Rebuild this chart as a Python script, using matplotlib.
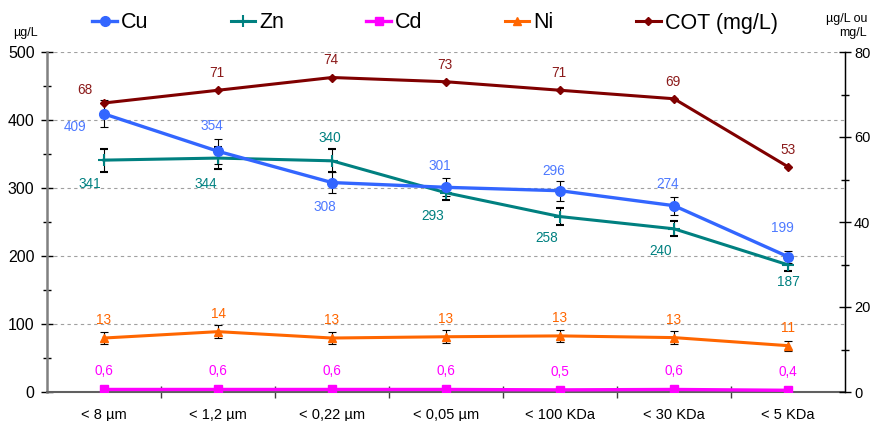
import matplotlib
matplotlib.use("Agg")
import matplotlib.pyplot as plt
from matplotlib.lines import Line2D
from matplotlib.ticker import MultipleLocator, FixedLocator, NullFormatter

plt.rcParams['font.family'] = ['Liberation Sans', 'DejaVu Sans']

# fractions (x categories)
fractions = ['< 8 µm', '< 1,2 µm', '< 0,22 µm', '< 0,05 µm', '< 100 KDa', '< 30 KDa', '< 5 KDa']

# left axis (µg/L)
cu = [409, 354, 308, 301, 296, 274, 199]
cu_err = [20, 18, 15, 13, 15, 13, 9]
zn = [341, 344, 340, 293, 258, 240, 187]
zn_err = [17, 16, 17, 10, 13, 11, 9]

# right axis (µg/L ou mg/L)
cd = [0.6, 0.6, 0.6, 0.6, 0.5, 0.6, 0.4]
ni = [12.7, 14.2, 12.7, 13.0, 13.2, 12.8, 10.9]
ni_err = [1.5, 1.5, 1.5, 1.5, 1.5, 1.5, 1.2]
cot = [68, 71, 74, 73, 71, 69, 53]

c_cu, c_zn, c_cd, c_ni, c_cot = '#3366FF', '#008080', '#FF00FF', '#FF6600', '#800000'

# label offsets in pixels (dx, dy)
cu_off = [(-29, -13), (-6, 25), (-7, -24), (-6, 21), (-6, 20), (-6, 22), (-6, 29)]
zn_off = [(-14, -24), (-12, -26), (-2, 23), (-13, -23), (-13, -21), (-13, -22), (0, -17)]
cot_off = [(-19, 13), (-1, 17), (-1, 17), (-1, 17), (-1, 17), (-1, 17), (0, 17)]

x = list(range(len(fractions)))

fig = plt.figure(figsize=(8.72, 4.21), dpi=100)
ax = fig.add_axes([47 / 872, 1 - 392 / 421, 798 / 872, 340 / 421])
ax2 = ax.twinx()

ebkw = dict(ecolor='black', elinewidth=0.8, capsize=3, capthick=0.8)

# series styles
st_cu = dict(color=c_cu, lw=2.4, marker='o', ms=7)
st_zn = dict(color=c_zn, lw=2.2, marker='+', ms=8, mew=1.5)
st_cd = dict(color=c_cd, lw=2.4, marker='s', ms=6)
st_ni = dict(color=c_ni, lw=2.2, marker='^', ms=6)
st_cot = dict(color=c_cot, lw=2.2, marker='D', ms=4)

ax.errorbar(x, zn, yerr=zn_err, **st_zn, **ebkw)
ax.errorbar(x, cu, yerr=cu_err, **st_cu, **ebkw)
ax2.plot(x, cd, **st_cd)
ax2.errorbar(x, ni, yerr=ni_err, **st_ni, **ebkw)
ax2.plot(x, cot, **st_cot)

lab = dict(textcoords='offset pixels', ha='center', va='center', fontsize=9.8)
for i in x:
    ax.annotate(f"{cu[i]:.0f}", (i, cu[i]), xytext=cu_off[i], color='#4D79FF', **lab)
    ax.annotate(f"{zn[i]:.0f}", (i, zn[i]), xytext=zn_off[i], color=c_zn, **lab)
    ax2.annotate(f"{cot[i]:.0f}", (i, cot[i]), xytext=cot_off[i], color='#8B1A1A', **lab)
    ax2.annotate(f"{ni[i]:.0f}", (i, ni[i]), xytext=(0, 18), color=c_ni, **lab)
    ax2.annotate(f"{cd[i]:.1f}".replace('.', ','), (i, cd[i]), xytext=(0, 18), color=c_cd, **lab)

ax.set_xlim(-0.5, len(fractions) - 0.5)
ax.set_ylim(0, 500)
ax2.set_ylim(0, 80)

ax.yaxis.set_major_locator(MultipleLocator(100))
ax.yaxis.set_minor_locator(MultipleLocator(50))
ax2.yaxis.set_major_locator(MultipleLocator(20))
ax2.yaxis.set_minor_locator(MultipleLocator(10))

ax.xaxis.set_major_locator(FixedLocator([i + 0.5 for i in x[:-1]]))
ax.xaxis.set_major_formatter(NullFormatter())
ax.set_xticks(x, fractions, minor=True)
ax.tick_params(axis='x', which='major', direction='inout', length=8, width=1, color='#404040')
ax.tick_params(axis='x', which='minor', length=0, pad=11.5, labelsize=10.5)

ax.tick_params(axis='y', which='major', direction='inout', length=8, width=1, labelsize=11.5, pad=5)
ax.tick_params(axis='y', which='minor', direction='inout', length=6, width=1)
ax2.tick_params(axis='y', which='major', direction='inout', length=8, width=1, labelsize=10.5, pad=2.5)
ax2.tick_params(axis='y', which='minor', direction='inout', length=6, width=1)

ax.grid(axis='y', which='major', linestyle=(0, (3, 3)), color='#A0A0A0', lw=0.8)
ax.set_axisbelow(True)

for a in (ax, ax2):
    a.spines['top'].set_visible(False)
ax.spines['left'].set_color('#808080')
ax.spines['left'].set_linewidth(1.8)
ax.spines['bottom'].set_color('#606060')
ax.spines['bottom'].set_linewidth(1.5)
ax2.spines['left'].set_visible(False)
ax2.spines['bottom'].set_visible(False)
ax2.spines['right'].set_linewidth(1)

fig.text(25 / 872, 1 - 33 / 421, 'µg/L', ha='center', va='center', fontsize=9)
fig.text(867 / 872, 1 - 26 / 421, 'µg/L ou\nmg/L', ha='right', va='center', fontsize=9,
         multialignment='right', linespacing=1.3)

handles = [Line2D([], [], **st) for st in (st_cu, st_zn, st_cd, st_ni, st_cot)]
fig.legend(handles=handles, labels=['Cu', 'Zn', 'Cd', 'Ni', 'COT (mg/L)'],
           loc='center', bbox_to_anchor=(435 / 872, 1 - 23 / 421), ncol=5, frameon=False,
           fontsize=15.5, handlelength=1.15, handletextpad=0.2, columnspacing=3.8)

plt.savefig('out.png', dpi=100)
plt.close()
